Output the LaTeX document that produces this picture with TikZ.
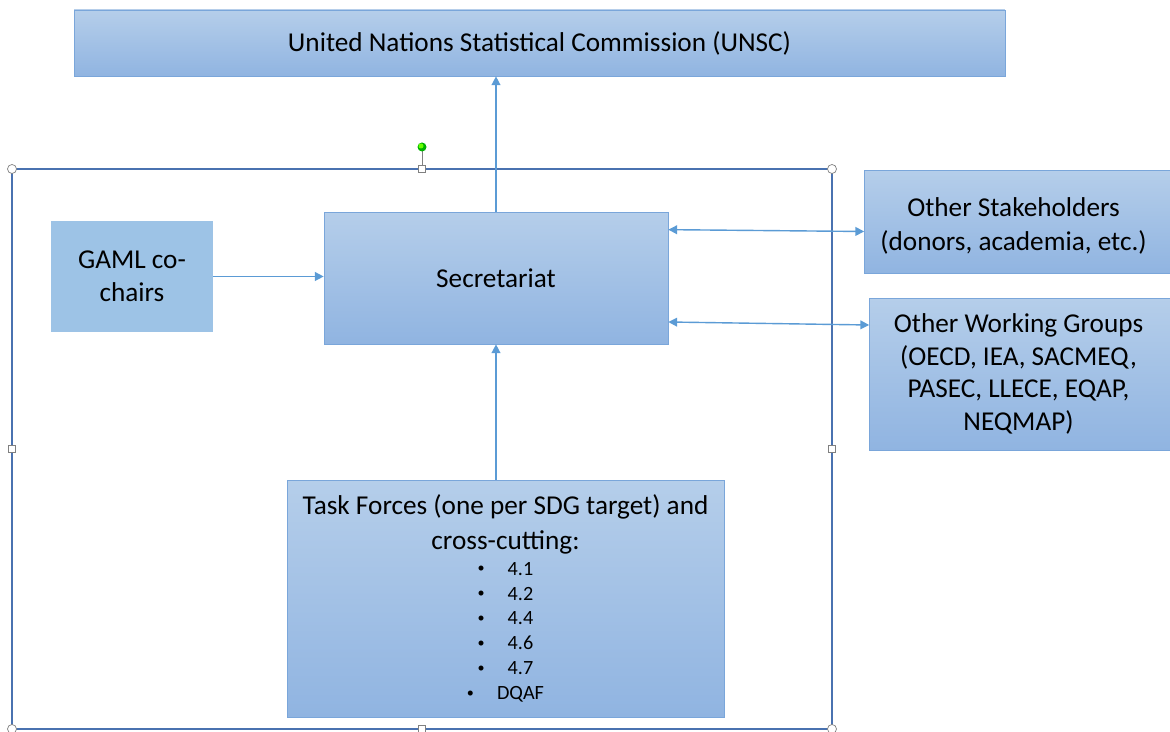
\documentclass[tikz,border=0pt]{standalone}
\usepackage{fontspec}
\setmainfont{Carlito}
\usetikzlibrary{arrows.meta,calc}

\definecolor{boxtop}{HTML}{B5CEEA}
\definecolor{boxbot}{HTML}{90B4E1}
\definecolor{boxline}{HTML}{7AA6DA}
\definecolor{flatbox}{HTML}{9DC3E6}
\definecolor{arrowc}{HTML}{5B9BD5}
\definecolor{framec}{HTML}{4A72B0}

\newcommand{\tfitem}[1]{{\fontsize{11.5}{14}\selectfont\raisebox{0.12em}{\scalebox{0.7}{\textbullet}}\hspace{4.6mm}#1}}

\begin{document}
\begin{tikzpicture}[
  x=0.02cm, y=-0.02cm,
  gbox/.style={draw=boxline, top color=boxtop, bottom color=boxbot,
    inner sep=0pt, align=center, font=\fontsize{15.5}{18.5}\selectfont},
  fbox/.style={fill=flatbox, inner sep=0pt, align=center,
    font=\fontsize{15.5}{18.5}\selectfont},
  link/.style={draw=arrowc, thick, -{Triangle[length=5pt,width=5pt]}},
  dlink/.style={link, {Triangle[length=5pt,width=5pt]}-{Triangle[length=5pt,width=5pt]}},
  hdl/.style={draw=gray, fill=white, line width=0.4pt},
]
\useasboundingbox (0,0) rectangle (1170,732);

% selection frame
\draw [framec, line width=0.8pt] (12,169) rectangle (832,729);
\draw [gray] (422,169) -- (422,150);
\fill [green!70!black] (422,147) circle [radius=4.5];
\fill [green!60!yellow] (421,146) circle [radius=2.5];
\foreach \x/\y in {12/169, 832/169, 12/729, 832/729}
  \path [hdl] (\x,\y) circle [radius=4.5];
\foreach \x/\y in {422/169, 422/729, 12/449, 832/449}
  \path [hdl] (\x-3.5,\y-3.5) rectangle (\x+3.5,\y+3.5);

% boxes
\node [gbox, minimum width=18.62cm, minimum height=1.32cm] (unsc) at (539.5,43)
  {United Nations Statistical Commission (UNSC)};
\node [gbox, minimum width=6.88cm, minimum height=2.64cm] (sec) at (496,278)
  {Secretariat};
\node [fbox, minimum width=3.24cm, minimum height=2.22cm] (gaml) at (132,276.5)
  {GAML co-\\chairs};
\node [gbox, minimum width=6.2cm, minimum height=2.06cm] (stake) at (1019.5,221.5)
  {\rule{0pt}{16pt}\hspace*{-2.4mm}Other Stakeholders\\[1pt]\hspace*{-2.4mm}(donors, academia, etc.)};
\node [gbox, minimum width=6.2cm, minimum height=3.04cm] (owg) at (1024.5,374)
  {\hspace*{-2.4mm}Other Working Groups\\\hspace*{-2.4mm}(OECD, IEA, SACMEQ,\\
   \hspace*{-2.4mm}PASEC, LLECE, EQAP,\\\hspace*{-2.4mm}NEQMAP)};
\node [gbox, minimum width=8.74cm, minimum height=4.74cm] (task) at (505.5,598.5)
  {Task Forces (one per SDG target) and\\[1.5pt]cross-cutting:\\[-4pt]
   \tfitem{4.1}\\[-4.3pt]
   \tfitem{4.2}\\[-4.3pt]
   \tfitem{4.4}\\[-4.3pt]
   \tfitem{4.6}\\[-4.3pt]
   \tfitem{4.7}\\[-4.3pt]
   \tfitem{DQAF}};

% connectors
\draw [link] (sec.north) -- (sec.north |- unsc.south);
\draw [link] (gaml.east) -- (gaml.east -| sec.west);
\draw [link] (sec.south |- task.north) -- (sec.south);
\draw [dlink] ($(sec.north east)+(0,18)$) -- ($(stake.west)+(0,10)$);
\draw [dlink] ($(sec.east)+(0,44)$) -- ($(owg.west)+(0,-49)$);

\end{tikzpicture}
\end{document}
